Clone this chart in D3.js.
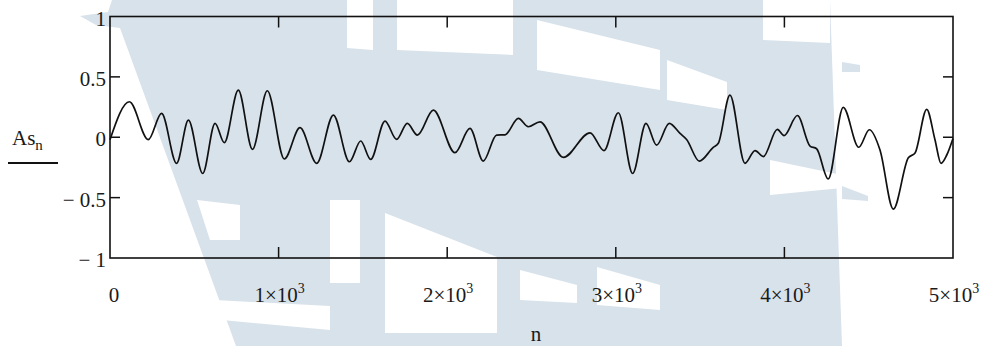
<!DOCTYPE html>
<html>
<head>
<meta charset="utf-8">
<script src="https://cdn.jsdelivr.net/npm/d3@7/dist/d3.min.js"></script>
<style>
  html, body { margin: 0; padding: 0; background: #fff; }
  svg { display: block; }
  text { font-family: "Liberation Serif", "Times New Roman", serif; fill: #1a1a1a; }
</style>
</head>
<body>
<svg id="chart" width="990" height="346"></svg>
<script>
// Sample index n and signal value As_n at the turning points of the trace
const nIndex = [
  0, 115, 227, 306, 395, 465, 550, 623, 678, 761, 845, 933, 1034, 1127, 1226, 1325,
  1420, 1487, 1546, 1631, 1700, 1763, 1823, 1918, 2046, 2135, 2214, 2293, 2343, 2422,
  2481, 2550, 2689, 2847, 2930, 3015, 3100, 3179, 3242, 3317, 3381, 3420, 3495, 3578,
  3608, 3677, 3766, 3826, 3875, 3958, 3998, 4077, 4152, 4191, 4260, 4349, 4441, 4504,
  4567, 4646, 4735, 4775, 4844, 4893, 4929, 4963, 5000
];
const asValues = [
  -0.02, 0.294, -0.02, 0.198, -0.216, 0.142, -0.30, 0.115, -0.045, 0.39, -0.10, 0.385, -0.18, 0.079, -0.216, 0.184,
  -0.203, -0.031, -0.183, 0.134, -0.018, 0.115, 0.018, 0.225, -0.128, 0.073, -0.197, 0.018, 0.02, 0.156,
  0.087, 0.128, -0.167, 0.037, -0.11, 0.203, -0.30, 0.115, -0.065, 0.115, 0.032, -0.018, -0.197, -0.084,
  -0.05, 0.349, -0.216, -0.11, -0.16, 0.065, 0.014, 0.18, -0.073, -0.095, -0.345, 0.247, -0.083, 0.062,
  -0.106, -0.595, -0.17, -0.13, 0.231, -0.02, -0.216, -0.147, -0.01
];

// Axis ticks
const yTicks = [-1, -0.5, 0, 0.5, 1];
const xTicks = [0, 1000, 2000, 3000, 4000, 5000];

// Background emblem shapes (decorative)
const emblemFill = [
  [[80,16],[108,12],[112,0],[830,0],[842,346],[236,346],[120,28],[96,25]],
  [[842,62],[860,65],[860,72],[842,72]],
  [[842,186],[868,196],[868,201],[842,199]]
];
const emblemCut = [
  [[347,0],[373,0],[373,50],[347,48]],
  [[397,0],[513,0],[513,55],[397,50]],
  [[537,20],[660,50],[660,90],[537,70]],
  [[667,60],[727,82],[727,110],[667,100]],
  [[763,0],[830,0],[830,43],[763,40]],
  [[770,160],[842,175],[842,188],[770,195]],
  [[330,200],[360,200],[360,283],[330,283]],
  [[385,213],[497,257],[497,333],[385,333]],
  [[520,270],[577,285],[577,303],[520,300]],
  [[597,267],[660,285],[660,310],[597,305]],
  [[197,200],[240,205],[240,240],[210,240]],
  [[215,300],[330,306],[330,330],[222,320]]
];

const svg = d3.select("#chart");
const margin = { left: 110, right: 37, top: 16.5, bottom: 88 };
const W = 990, H = 346;

const x = d3.scaleLinear().domain([0, 5000]).range([margin.left, W - margin.right]);
const y = d3.scaleLinear().domain([-1, 1]).range([H - margin.bottom, margin.top]);

// emblem
const emblem = svg.append("g");
emblem.selectAll("path.fill").data(emblemFill).join("path")
  .attr("class", "fill")
  .attr("d", d => "M" + d.join("L") + "Z").attr("fill", "#d8e2eb");
emblem.selectAll("path.cut").data(emblemCut).join("path")
  .attr("class", "cut")
  .attr("d", d => "M" + d.join("L") + "Z").attr("fill", "#ffffff");

const x0 = x.range()[0], x1 = x.range()[1];
const y0 = y.range()[1], y1 = y.range()[0];

// trace
const line = d3.line()
  .x((d, i) => x(nIndex[i]))
  .y((d) => y(d))
  .curve(d3.curveMonotoneX);

svg.append("path")
  .datum(asValues)
  .attr("d", line)
  .attr("fill", "none")
  .attr("stroke", "#111")
  .attr("stroke-width", 1.7)
  .attr("stroke-linejoin", "round");

// inside ticks on all four sides
const innerY = yTicks.filter(v => v > -1 && v < 1);
const innerX = xTicks.filter(v => v > 0 && v < 5000);
const tickG = svg.append("g").attr("stroke", "#111").attr("stroke-width", 1.5);
innerY.forEach(v => {
  tickG.append("line").attr("x1", x0).attr("x2", x0 + 10).attr("y1", y(v)).attr("y2", y(v));
  tickG.append("line").attr("x1", x1 - 10).attr("x2", x1).attr("y1", y(v)).attr("y2", y(v));
});
innerX.forEach(v => {
  tickG.append("line").attr("x1", x(v)).attr("x2", x(v)).attr("y1", y0).attr("y2", y0 + 11);
  tickG.append("line").attr("x1", x(v)).attr("x2", x(v)).attr("y1", y1 - 11).attr("y2", y1);
});

// frame
svg.append("rect")
  .attr("x", x0).attr("y", y0)
  .attr("width", x1 - x0).attr("height", y1 - y0)
  .attr("fill", "none").attr("stroke", "#111").attr("stroke-width", 1.6);

// y tick labels
const fmtY = v => v < 0 ? "\u2212 " + String(Math.abs(v)) : String(v);
svg.append("g").selectAll("text").data(yTicks).join("text")
  .attr("x", x0 - 4)
  .attr("y", d => y(d) + 9)
  .attr("text-anchor", "end")
  .attr("font-size", 21)
  .text(fmtY);

// x tick labels: 0, k×10^3
const xl = svg.append("g").selectAll("text").data(xTicks).join("text")
  .attr("x", d => d === 0 ? x(d) + 4 : x(d) + 1)
  .attr("y", 302)
  .attr("text-anchor", "middle")
  .attr("font-size", 21);
xl.each(function(d) {
  const t = d3.select(this);
  if (d === 0) { t.text("0"); return; }
  t.append("tspan").text((d / 1000) + "\u00d710");
  t.append("tspan").attr("dy", -9).attr("font-size", 14).text("3");
});

// axis titles
const yt = svg.append("text").attr("x", 12).attr("y", 145).attr("font-size", 21);
yt.append("tspan").text("As");
yt.append("tspan").attr("dy", 5).attr("font-size", 15).text("n");
svg.append("line").attr("x1", 8).attr("x2", 58).attr("y1", 163).attr("y2", 163)
  .attr("stroke", "#111").attr("stroke-width", 2);

svg.append("text").attr("x", 536).attr("y", 341).attr("text-anchor", "middle")
  .attr("font-size", 21).text("n");
</script>
</body>
</html>
